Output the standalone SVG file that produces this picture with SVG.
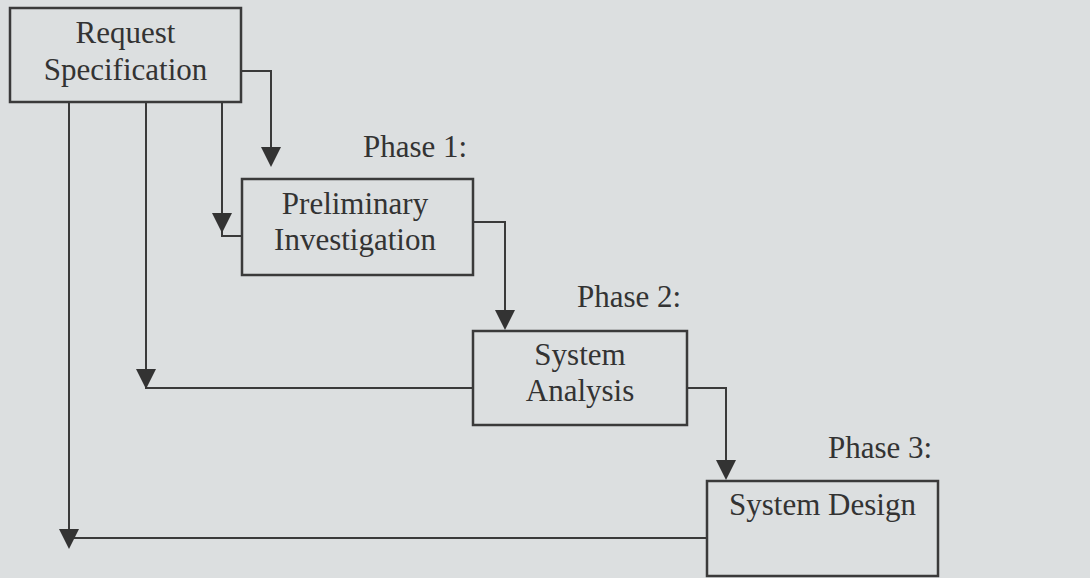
<svg xmlns="http://www.w3.org/2000/svg" xmlns:xlink="http://www.w3.org/1999/xlink" width="1090" height="578" viewBox="0 0 1090 578">
  <style>
    .box { fill: none; stroke: #3a3a3a; stroke-width: 2.5; }
    .lbl { font-family: "Liberation Serif", "Times New Roman", serif; font-size: 31px; fill: #333; }
    .mid { text-anchor: middle; }
    .con { fill: none; stroke: #3a3a3a; stroke-width: 2; }
    .ah { fill: #333; }
  </style>
  <defs>
    <path id="ah" class="ah" d="M-10,-20 L10,-20 L0,0 Z"/>
  </defs>
  <rect width="1090" height="578" fill="#dcdfe0"/>

  <g id="connectors">
    <path class="con" d="M241,71 H271 V160"/>
    <use xlink:href="#ah" x="271" y="167"/>
    <path class="con" d="M222,102 V236 H242"/>
    <use xlink:href="#ah" x="222" y="233"/>
    <path class="con" d="M146,102 V388 H473"/>
    <use xlink:href="#ah" x="146" y="389"/>
    <path class="con" d="M69,102 V545 M69,538 H707"/>
    <use xlink:href="#ah" x="69" y="549"/>
    <path class="con" d="M473,222 H505 V322"/>
    <use xlink:href="#ah" x="505" y="330"/>
    <path class="con" d="M687,388 H726 V472"/>
    <use xlink:href="#ah" x="726" y="480"/>
  </g>

  <g id="request-specification">
    <rect class="box" x="10" y="8" width="231" height="94"/>
    <text class="lbl mid" x="125.5" y="43">Request</text>
    <text class="lbl mid" x="125.5" y="80">Specification</text>
  </g>

  <g id="phase1">
    <text class="lbl" x="363" y="157">Phase 1:</text>
    <rect class="box" x="242" y="179" width="231" height="96"/>
    <text class="lbl mid" x="355" y="214">Preliminary</text>
    <text class="lbl mid" x="355" y="250">Investigation</text>
  </g>

  <g id="phase2">
    <text class="lbl" x="577" y="307">Phase 2:</text>
    <rect class="box" x="473" y="331" width="214" height="94"/>
    <text class="lbl mid" x="580" y="365">System</text>
    <text class="lbl mid" x="580" y="401">Analysis</text>
  </g>

  <g id="phase3">
    <text class="lbl" x="828" y="458">Phase 3:</text>
    <rect class="box" x="707" y="481" width="231" height="95"/>
    <text class="lbl mid" x="822.5" y="515">System Design</text>
  </g>
</svg>
